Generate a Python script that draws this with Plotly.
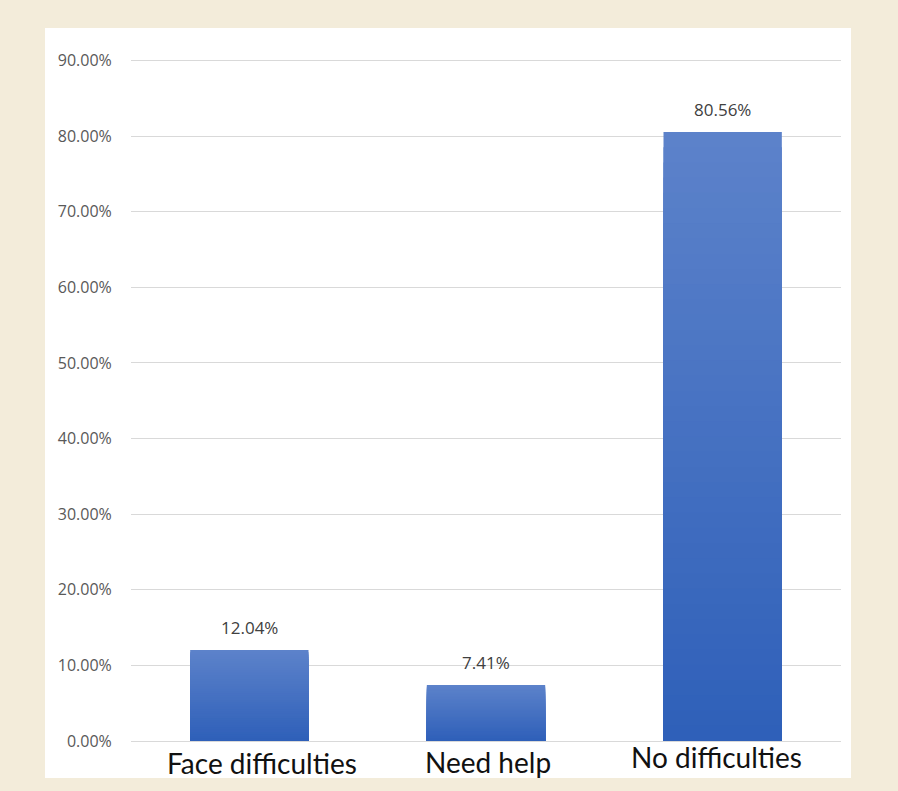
import plotly.graph_objects as go

# Survey responses (share of respondents, %)
categories = ["Face difficulties", "Need help", "No difficulties"]
shares = [12.04, 7.41, 80.56]
y_ticks = [0, 10, 20, 30, 40, 50, 60, 70, 80, 90]
y_tick_text = ["%.2f%%" % v for v in y_ticks]

# Bar fill runs from a lighter blue at the top to a deeper blue at the base
top_rgb = (92, 130, 202)
base_rgb = (47, 96, 185)
steps = 40

fig = go.Figure()
for k in range(steps):
    frac = (steps - k) / steps
    t = k / (steps - 1)
    rgb = tuple(round(a + (b - a) * t) for a, b in zip(top_rgb, base_rgb))
    fig.add_trace(go.Bar(
        x=categories,
        y=[v * frac for v in shares],
        width=0.5,
        marker=dict(color="rgb(%d,%d,%d)" % rgb, line=dict(width=0)),
        hovertemplate="%{x}: %{y:.2f}%<extra></extra>" if k == 0 else None,
        hoverinfo=None if k == 0 else "skip",
        showlegend=False,
    ))

# Value labels above each bar
for cat, v in zip(categories, shares):
    fig.add_annotation(
        x=cat, y=v, xref="x", yref="y",
        text="%.2f%%" % v, showarrow=False,
        xanchor="center", yanchor="middle", yshift=22,
        font=dict(family="Open Sans", size=17, color="#404040"),
    )

# Category labels beneath the axis
label_xshift = [13, 2, -6]
label_yshift = [-22, -21, -16]
for cat, dx, dy in zip(categories, label_xshift, label_yshift):
    fig.add_annotation(
        x=cat, y=0, yref="y", xref="x",
        text=cat, showarrow=False,
        xanchor="center", yanchor="middle",
        xshift=dx, yshift=dy,
        font=dict(family="Lato", size=28, color="#111111"),
    )

# White chart panel on the beige page
fig.add_shape(
    type="rect", xref="paper", yref="paper",
    x0=(45 - 131) / 710, x1=(851 - 131) / 710,
    y0=-(778 - 741) / 688, y1=1 + (53 - 28) / 688,
    fillcolor="white", line=dict(width=0), layer="below",
)

fig.update_layout(
    width=898, height=791,
    margin=dict(l=131, r=57, t=53, b=50),
    paper_bgcolor="#F3ECDA",
    plot_bgcolor="rgba(0,0,0,0)",
    barmode="overlay",
    xaxis=dict(
        showticklabels=False, showgrid=False, zeroline=False,
        showline=False, ticks="",
    ),
    yaxis=dict(
        range=[0, 91],
        tickvals=y_ticks,
        ticktext=y_tick_text,
        showgrid=True, gridcolor="#D9D9D9", gridwidth=1,
        zeroline=True, zerolinecolor="#D9D9D9", zerolinewidth=1,
        showline=False,
        ticks="outside", ticklen=15, tickcolor="rgba(0,0,0,0)",
        tickfont=dict(family="Open Sans", size=16, color="#595959"),
    ),
)

fig.write_html("out.html")
